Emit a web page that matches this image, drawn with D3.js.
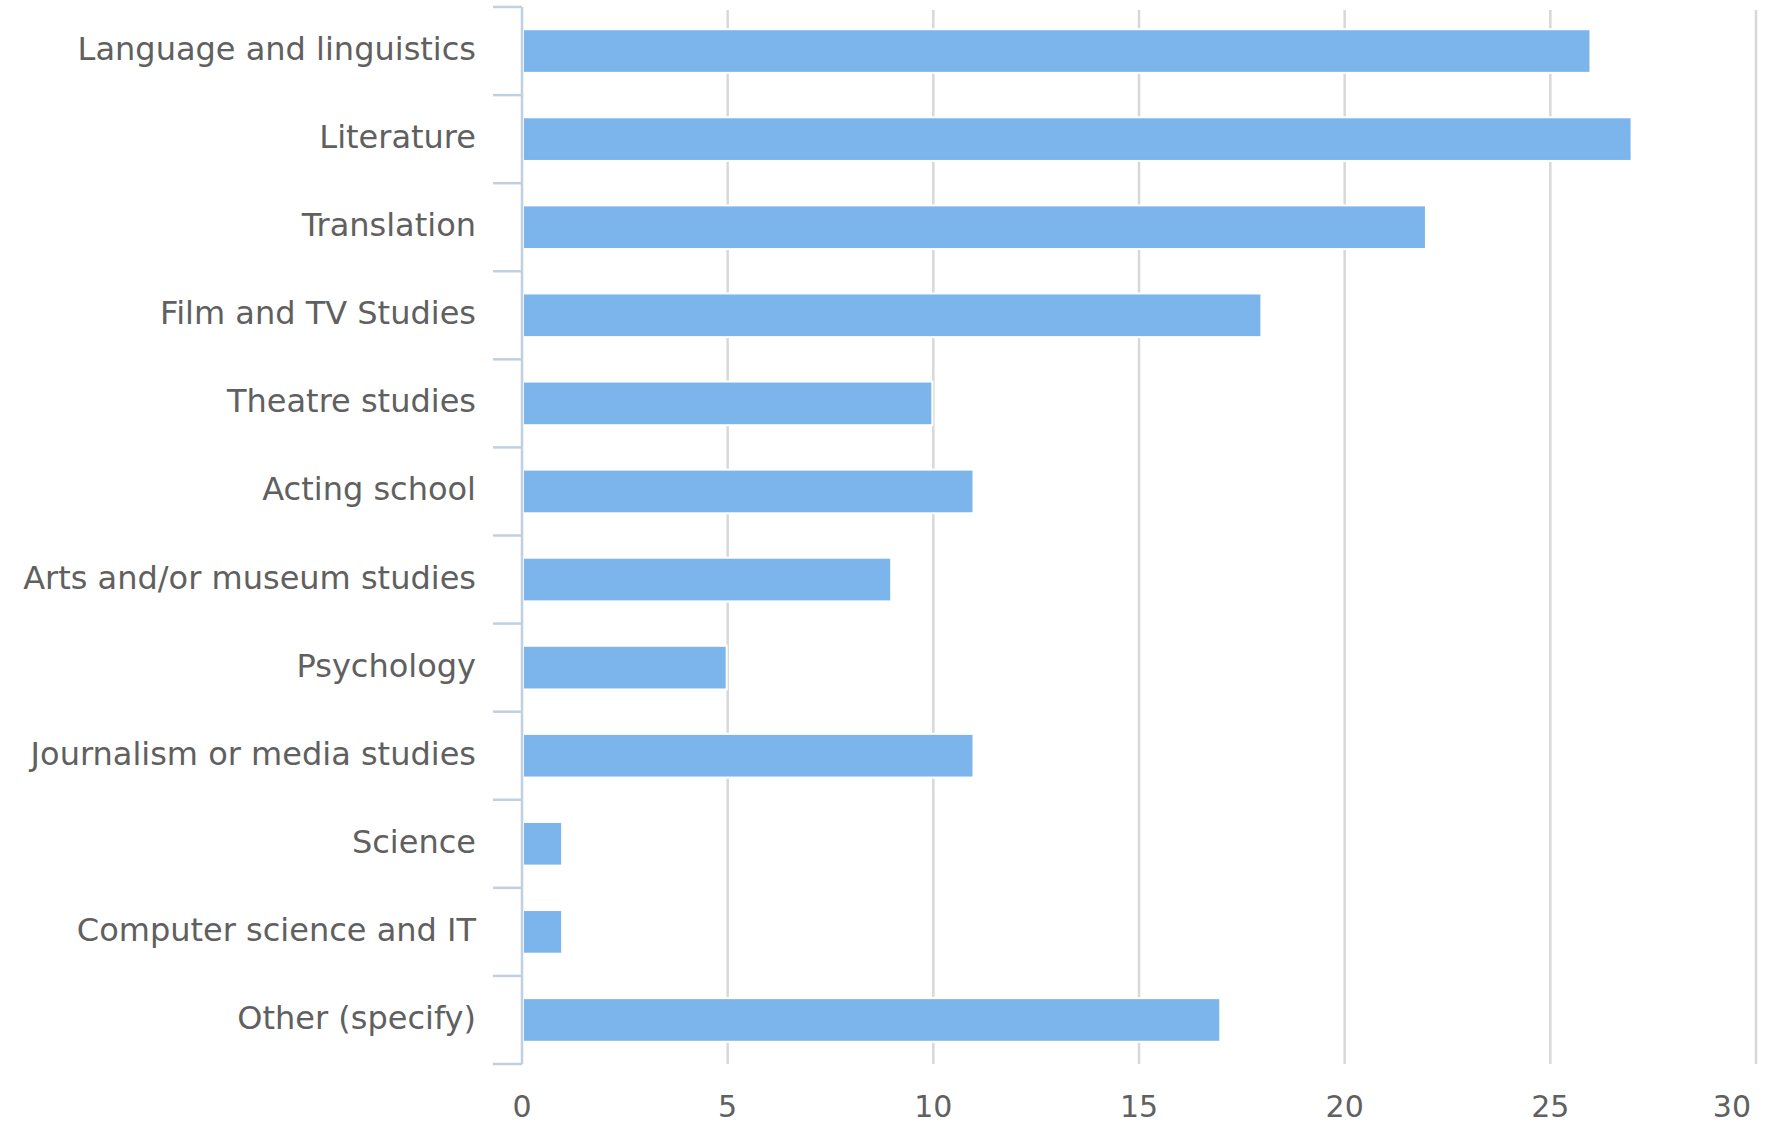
<!DOCTYPE html>
<html>
<head>
<meta charset="utf-8">
<script src="https://cdn.jsdelivr.net/npm/d3@7"></script>
<style>
  html, body { margin: 0; padding: 0; background: #fff; overflow: hidden; }
  svg { display: block; }
  text { font-family: "DejaVu Sans", sans-serif; fill: #606060; }
</style>
</head>
<body>
<svg width="1772" height="1128"></svg>
<script>
// chart data
var categories = ["Language and linguistics", "Literature", "Translation", "Film and TV Studies",
  "Theatre studies", "Acting school", "Arts and/or museum studies", "Psychology",
  "Journalism or media studies", "Science", "Computer science and IT", "Other (specify)"];
var counts = [26, 27, 22, 18, 10, 11, 9, 5, 11, 1, 1, 17];
var xTicks = [0, 5, 10, 15, 20, 25, 30];

var svg = d3.select("svg"),
  margin = { top: 7, right: 16, bottom: 64, left: 522 },
  width = +svg.attr("width"),
  height = +svg.attr("height");

const innerWidth = width - margin.left - margin.right;
const innerHeight = height - margin.top - margin.bottom;

const x = d3.scaleLinear().domain([0, 30]).range([0, innerWidth]);
const y = d3.scaleBand()
  .domain(categories)
  .range([0, innerHeight])
  .paddingInner(0.527)
  .paddingOuter(0.2635);

const g = svg.append("g").attr("transform", "translate(" + margin.left + "," + margin.top + ")");

// vertical grid lines
g.selectAll(".grid")
  .data(xTicks.slice(1))
  .enter().append("line")
  .attr("x1", d => x(d)).attr("x2", d => x(d))
  .attr("y1", 3).attr("y2", innerHeight)
  .attr("stroke", "#d8d8d8")
  .attr("stroke-width", 2.5);

// x tick labels (last one kept inside the chart)
var last = xTicks[xTicks.length - 1];
g.selectAll(".xlabel")
  .data(xTicks)
  .enter().append("text")
  .attr("x", d => d === last ? x(d) - 5 : x(d))
  .attr("y", innerHeight + 53)
  .attr("text-anchor", d => d === last ? "end" : "middle")
  .attr("font-size", "30px")
  .text(d => d);

// bars, with a thin white border like the original
g.selectAll("rect")
  .data(counts)
  .enter().append("rect")
  .attr("x", 1)
  .attr("y", (d, i) => y(categories[i]) - 1)
  .attr("width", d => x(d) - 2)
  .attr("height", y.bandwidth() + 2)
  .attr("fill", "#7cb5ec")
  .attr("stroke", "#fff")
  .attr("stroke-width", 2);

// y axis line and ticks at band edges
g.append("line")
  .attr("x1", 0).attr("x2", 0)
  .attr("y1", 0).attr("y2", innerHeight)
  .attr("stroke", "#c0d0e0")
  .attr("stroke-width", 2.5);

var edges = d3.range(categories.length + 1).map(i => i * y.step());
g.selectAll(".ytick")
  .data(edges)
  .enter().append("line")
  .attr("x1", -29).attr("x2", 0)
  .attr("y1", d => d).attr("y2", d => d)
  .attr("stroke", "#c0d0e0")
  .attr("stroke-width", 2.5);

// category labels
g.selectAll(".ylabel")
  .data(categories)
  .enter().append("text")
  .attr("x", -46)
  .attr("y", d => y(d) + y.bandwidth() / 2 + 9)
  .attr("text-anchor", "end")
  .attr("font-size", "32px")
  .text(d => d);
</script>
</body>
</html>
